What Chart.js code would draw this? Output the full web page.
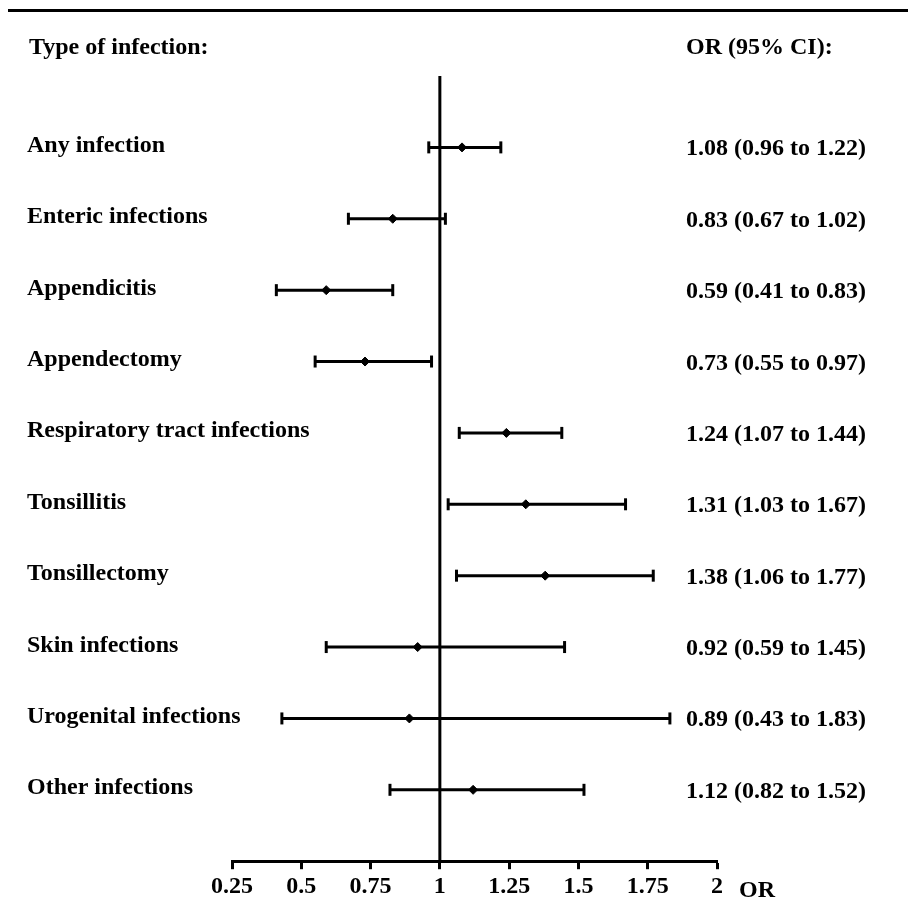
<!DOCTYPE html>
<html><head><meta charset="utf-8">
<script src="https://cdn.jsdelivr.net/npm/chart.js@4/dist/chart.umd.min.js"></script>
<style>html,body{margin:0;padding:0;background:#fff;overflow:hidden}canvas{display:block}</style>
</head><body>
<canvas id="c" width="908" height="913"></canvas>
<script>
const categories = ["Any infection", "Enteric infections", "Appendicitis", "Appendectomy",
  "Respiratory tract infections", "Tonsillitis", "Tonsillectomy", "Skin infections",
  "Urogenital infections", "Other infections"];
const orValues = [1.08, 0.83, 0.59, 0.73, 1.24, 1.31, 1.38, 0.92, 0.89, 1.12];
const ciLower  = [0.96, 0.67, 0.41, 0.55, 1.07, 1.03, 1.06, 0.59, 0.43, 0.82];
const ciUpper  = [1.22, 1.02, 0.83, 0.97, 1.44, 1.67, 1.77, 1.45, 1.83, 1.52];
const orTexts  = ["1.08 (0.96 to 1.22)", "0.83 (0.67 to 1.02)", "0.59 (0.41 to 0.83)",
  "0.73 (0.55 to 0.97)", "1.24 (1.07 to 1.44)", "1.31 (1.03 to 1.67)", "1.38 (1.06 to 1.77)",
  "0.92 (0.59 to 1.45)", "0.89 (0.43 to 1.83)", "1.12 (0.82 to 1.52)"];
const xTicks = [0.25, 0.5, 0.75, 1, 1.25, 1.5, 1.75, 2];
const xTickLabels = ["0.25", "0.5", "0.75", "1", "1.25", "1.5", "1.75", "2"];
const refValue = 1;
const leftHeader = "Type of infection:";
const rightHeader = "OR (95% CI):";
const axisTitle = "OR";

const FONT = "'Liberation Serif', 'Times New Roman', serif";
const Y_MIN = -1, Y_MAX = 10;

const datasets = [];
// reference line at OR = 1
datasets.push({
  data: [{x: refValue, y: Y_MIN}, {x: refValue, y: Y_MAX}],
  showLine: true, borderColor: '#000', borderWidth: 3, pointRadius: 0, clip: false
});
// CI bars with caps
categories.forEach((c, i) => {
  datasets.push({
    data: [{x: ciLower[i], y: i}, {x: ciUpper[i], y: i}],
    showLine: true, borderColor: '#000', borderWidth: 3,
    pointStyle: 'line', pointRotation: 90, pointRadius: 6,
    pointBorderWidth: 3, pointBorderColor: '#000', pointBackgroundColor: '#000',
    clip: false
  });
});
// point estimates
datasets.push({
  data: orValues.map((v, i) => ({x: v, y: i})),
  showLine: false, pointStyle: 'rectRot', pointRadius: 4.5,
  pointBackgroundColor: '#000', pointBorderColor: '#000', pointBorderWidth: 1, clip: false
});

const textPlugin = {
  id: 'forestText',
  afterDraw(chart) {
    const ctx = chart.ctx;
    const ys = chart.scales.y;
    ctx.save();
    ctx.fillStyle = '#000';
    ctx.fillRect(8, 9, 900, 3);
    ctx.font = "bold 24px " + FONT;
    ctx.textBaseline = 'alphabetic';
    ctx.textAlign = 'left';
    ctx.fillText(leftHeader, 29, 54);
    ctx.fillText(rightHeader, 686, 54);
    categories.forEach((c, i) => {
      const py = ys.getPixelForValue(i);
      ctx.fillText(c, 27, py + 4.5);
      ctx.fillText(orTexts[i], 686, py + 8);
    });
    ctx.fillText(axisTitle, 739, 897);
    ctx.restore();
  }
};

new Chart(document.getElementById('c'), {
  type: 'scatter',
  data: { datasets },
  options: {
    responsive: false, animation: false, devicePixelRatio: 1,
    layout: { padding: { left: 232, right: 191, top: 76, bottom: 9 } },
    plugins: { legend: { display: false }, tooltip: { enabled: false } },
    scales: {
      x: {
        type: 'linear', min: 0.25, max: 2,
        afterBuildTicks: (axis) => { axis.ticks = xTicks.map(v => ({value: v})); },
        ticks: {
          color: '#000', padding: 3, maxRotation: 0, autoSkip: false,
          font: { family: FONT, size: 24, weight: 'bold' },
          callback: (v) => { const k = xTicks.indexOf(v); return k >= 0 ? xTickLabels[k] : ''; }
        },
        grid: { drawOnChartArea: false, drawTicks: true, tickLength: 8, tickWidth: 3, tickColor: '#000', color: '#000' },
        border: { display: true, color: '#000', width: 3 }
      },
      y: { type: 'linear', reverse: true, min: Y_MIN, max: Y_MAX, display: false }
    }
  },
  plugins: [textPlugin]
});
</script>
</body></html>
